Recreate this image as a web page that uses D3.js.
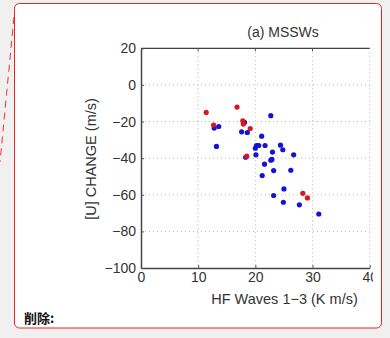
<!DOCTYPE html>
<head>
<meta charset="utf-8">
<title>MSSWs</title>
<style>
body {
  margin: 0;
  background: #f0f0f0;
  font-family: "Liberation Sans", Arial, sans-serif;
}
.axis text {
  font-family: "Liberation Sans", Arial, sans-serif;
  font-size: 14px;
  fill: #333;
}
.grid line {
  stroke: #b8b8b8;
  stroke-dasharray: 1,3;
}
</style>
<script src="https://d3js.org/d3.v7.min.js"></script>
</head>
<body>
<script>
// data
var xTicks = [0, 10, 20, 30, 40];
var yTicks = [20, 0, -20, -40, -60, -80, -100];

// red dots (x = HF waves, y = [U] change)
var redX = [11.4, 12.7, 16.8, 17.8, 17.9, 19.1, 18.5, 28.3, 29.1];
var redY = [-15.0, -21.9, -12.1, -19.6, -21.4, -23.8, -38.9, -59.2, -61.7];

// blue dots
var blueX = [12.8, 13.6, 13.2, 17.6, 18.6, 18.1, 22.7, 21.1, 20.2, 20.6, 20.0, 21.7, 20.1, 23.0,
             22.9, 22.7, 21.6, 21.2, 23.2, 24.4, 24.8, 26.7, 26.2, 25.0, 23.2, 24.9, 27.7, 31.1, 18.3];
var blueY = [-23.6, -22.7, -33.6, -25.6, -26.0, -20.5, -16.8, -28.0, -33.1, -33.1, -34.6, -33.1, -38.2, -36.7,
             -40.7, -41.1, -43.3, -49.5, -46.8, -32.9, -35.4, -38.2, -46.6, -56.8, -60.4, -64.1, -65.5, -70.5, -39.5];

var width = 390, height = 338;

var svg = d3.select("body").append("svg")
    .attr("width", width)
    .attr("height", height)
    .style("display", "block");

// dashed connector on the left
svg.append("line")
    .attr("x1", 14).attr("y1", 17)
    .attr("x2", 0).attr("y2", 162)
    .attr("stroke", "#ee3333")
    .attr("stroke-width", 1)
    .attr("stroke-dasharray", "7,5");

// white card
svg.append("rect")
    .attr("x", 14.5).attr("y", 3.5)
    .attr("width", 367).attr("height", 324.5)
    .attr("rx", 5)
    .attr("fill", "#fff")
    .attr("stroke", "#ee2222")
    .attr("stroke-width", 1);

svg.append("clipPath").attr("id", "clip")
  .append("rect")
    .attr("x", 15).attr("y", 4)
    .attr("width", 358).attr("height", 323);

var g = svg.append("g").attr("clip-path", "url(#clip)");

var x = d3.scaleLinear().domain([0, 40]).range([141, 369.7]);
var y = d3.scaleLinear().domain([-100, 20]).range([268, 48.3]);

// dotted grid
g.append("g").attr("class", "grid")
  .selectAll("line.v").data(xTicks.slice(1)).enter().append("line")
    .attr("x1", function(d) { return x(d); }).attr("x2", function(d) { return x(d); })
    .attr("y1", y(20)).attr("y2", y(-100));
g.append("g").attr("class", "grid")
  .selectAll("line.h").data(yTicks.slice(0, -1)).enter().append("line")
    .attr("x1", x(0)).attr("x2", x(40))
    .attr("y1", function(d) { return y(d); }).attr("y2", function(d) { return y(d); });

// axes
var xAxis = d3.axisBottom(x).tickValues(xTicks).tickSizeInner(-3).tickSizeOuter(0).tickPadding(6)
    .tickFormat(d3.format("d"));
var yAxis = d3.axisLeft(y).tickValues(yTicks).tickSizeInner(-3).tickSizeOuter(0).tickPadding(5)
    .tickFormat(function(d) { return d < 0 ? "\u2212" + Math.abs(d) : d; });

var gx = g.append("g").attr("class", "axis")
    .attr("transform", "translate(0," + y(-100) + ")")
    .call(xAxis);
var gy = g.append("g").attr("class", "axis")
    .attr("transform", "translate(" + x(0) + ",0)")
    .call(yAxis);
gx.select(".domain").attr("stroke", "#444").attr("stroke-width", 1.5);
gy.select(".domain").attr("stroke", "#444").attr("stroke-width", 1.5);
gx.selectAll(".tick line").attr("stroke", "#555");
gy.selectAll(".tick line").attr("stroke", "#555");
gx.selectAll(".tick text").attr("dy", "0.6em");

// top frame line
g.append("line")
    .attr("x1", x(0)).attr("x2", x(40))
    .attr("y1", y(20)).attr("y2", y(20))
    .attr("stroke", "#444").attr("stroke-width", 1.2);
g.append("g").selectAll("line").data(xTicks.slice(1, -1)).enter().append("line")
    .attr("x1", function(d) { return x(d); }).attr("x2", function(d) { return x(d); })
    .attr("y1", y(20)).attr("y2", y(20) + 3)
    .attr("stroke", "#555");

// dots
g.append("g").selectAll("circle").data(blueX).enter().append("circle")
    .attr("cx", function(d) { return x(d); })
    .attr("cy", function(d, i) { return y(blueY[i]); })
    .attr("r", 2.6)
    .attr("fill", "#1414d2");
g.append("g").selectAll("circle").data(redX).enter().append("circle")
    .attr("cx", function(d) { return x(d); })
    .attr("cy", function(d, i) { return y(redY[i]); })
    .attr("r", 2.6)
    .attr("fill", "#d8181c");

// titles
g.append("text")
    .attr("x", 283).attr("y", 37)
    .attr("text-anchor", "middle")
    .attr("font-size", "14px")
    .attr("fill", "#333")
    .text("(a) MSSWs");

g.append("text")
    .attr("x", 284.5).attr("y", 304)
    .attr("text-anchor", "middle")
    .attr("font-size", "14.5px")
    .attr("fill", "#333")
    .text("HF Waves 1\u22123 (K m/s)");

g.append("text")
    .attr("transform", "translate(95.5," + 159 + ") rotate(-90)")
    .attr("text-anchor", "middle")
    .attr("font-size", "14.5px")
    .attr("fill", "#333")
    .text("[U] CHANGE (m/s)");

svg.append("text")
    .attr("x", 24).attr("y", 323)
    .attr("font-family", "'Noto Sans CJK SC', sans-serif")
    .attr("font-size", "13px")
    .attr("font-weight", "bold")
    .attr("fill", "#111")
    .text("削除:");
</script>
</body>
